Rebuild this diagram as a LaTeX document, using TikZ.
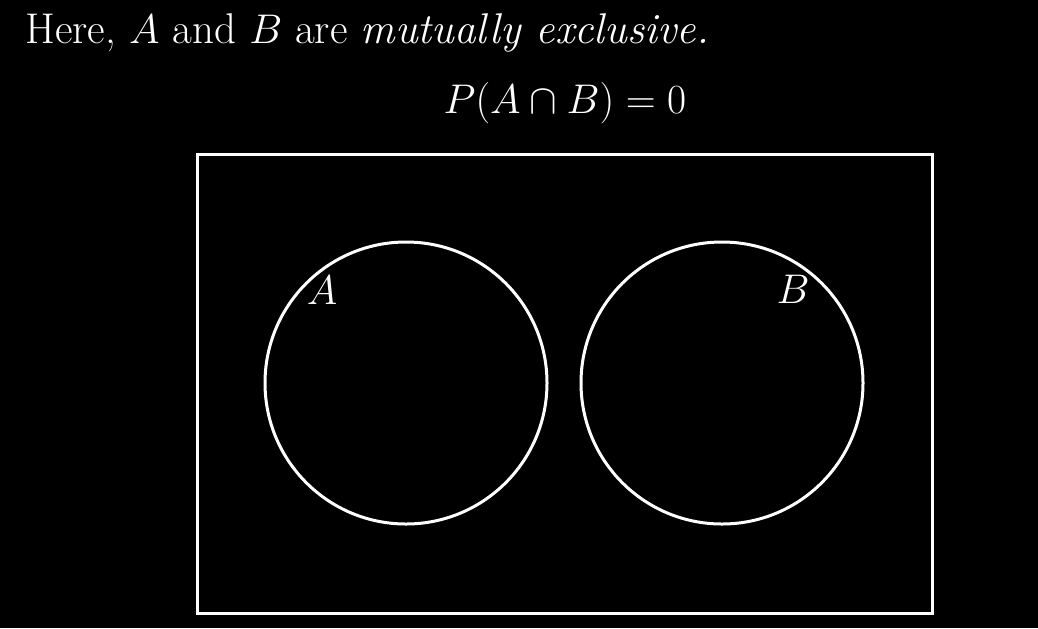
\documentclass[tikz,border=0pt]{standalone}
\usepackage{tikz}

\begin{document}
\begin{tikzpicture}[x=0.5pt, y=-0.5pt, line width=1.5pt, white,
        every node/.style={font=\fontsize{20.7}{25}\selectfont, inner sep=0pt}]
            \fill[black] (0, 0) rectangle (1038, 628);
            \node[anchor=base west, font=\fontsize{21.5}{26}\selectfont] (heading) at (24, 43) {Here, $A$ and $B$ are \textit{mutually exclusive.}};
            \node[anchor=base] (formula) at (565, 113) {$P(A\cap B) = 0$};
            \draw (197, 154) rectangle (932, 613);
            \draw (406, 383) circle (141);
            \draw (722, 383) circle (141);
            \node (labelA) at (322, 290) {$A$};
            \node (labelB) at (793, 289) {$B$};
        \end{tikzpicture}
\end{document}
